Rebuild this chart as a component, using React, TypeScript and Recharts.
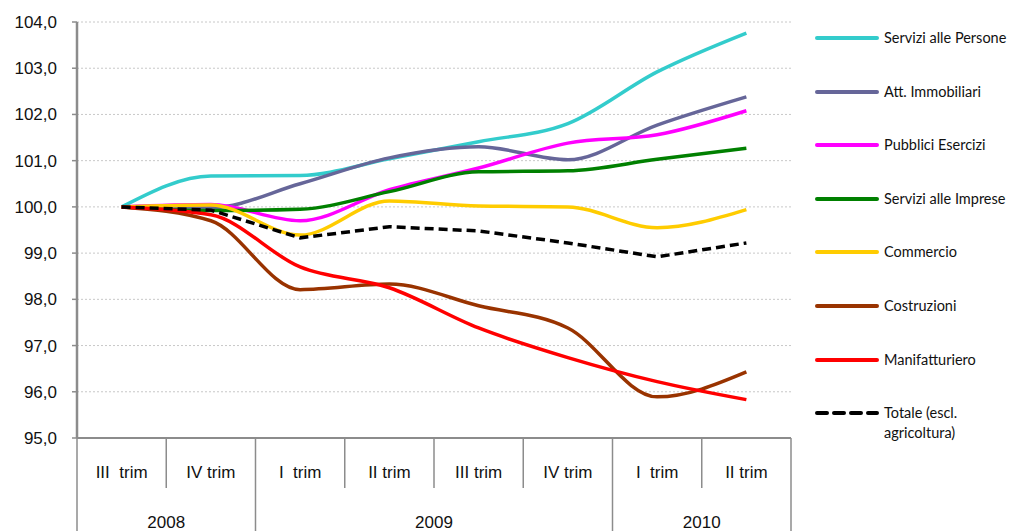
import { LineChart, Line, XAxis, YAxis, CartesianGrid } from 'recharts';

const quarters = ['III  trim', 'IV trim', 'I  trim', 'II trim', 'III trim', 'IV trim', 'I  trim', 'II trim'];
const years = ['2008', '2009', '2010'];
const yearSpans = [2, 4, 2];
const yTicks = [95, 96, 97, 98, 99, 100, 101, 102, 103, 104];

const serviziPersone = [100.0, 100.67, 100.68, 101.04, 101.41, 101.8, 102.92, 103.76];
const attImmobiliari = [100.0, 99.98, 100.5, 101.06, 101.3, 101.02, 101.77, 102.38];
const pubbliciEsercizi = [100.0, 100.05, 99.7, 100.37, 100.84, 101.38, 101.56, 102.08];
const serviziImprese = [100.0, 99.92, 99.95, 100.33, 100.76, 100.78, 101.03, 101.27];
const commercio = [100.0, 100.04, 99.39, 100.13, 100.02, 100.0, 99.55, 99.94];
const costruzioni = [100.0, 99.7, 98.21, 98.33, 97.86, 97.38, 95.89, 96.43];
const manifatturiero = [100.0, 99.83, 98.7, 98.25, 97.38, 96.74, 96.22, 95.83];
const totale = [100.0, 99.93, 99.33, 99.57, 99.48, 99.22, 98.92, 99.22];

const series = [
  { key: 'persone', name: 'Servizi alle Persone', values: serviziPersone, color: '#33CCCC' },
  { key: 'immobiliari', name: 'Att. Immobiliari', values: attImmobiliari, color: '#666699' },
  { key: 'pubblici', name: 'Pubblici Esercizi', values: pubbliciEsercizi, color: '#FF00FF' },
  { key: 'imprese', name: 'Servizi alle Imprese', values: serviziImprese, color: '#008000' },
  { key: 'commercio', name: 'Commercio', values: commercio, color: '#FFCC00' },
  { key: 'costruzioni', name: 'Costruzioni', values: costruzioni, color: '#993300' },
  { key: 'manifatturiero', name: 'Manifatturiero', values: manifatturiero, color: '#FF0000' },
  { key: 'totale', name: 'Totale (escl.\nagricoltura)', values: totale, color: '#000000', dash: '9 5' },
];

const data = quarters.map((q, i) => {
  const row: any = { q, i };
  series.forEach((s) => (row[s.key] = s.values[i]));
  return row;
});

const W = 1011;
const H = 531;
const X_AXIS_H = 93;
const Y_AXIS_W = 77;
const margin = { top: 22, right: 220, bottom: 0, left: 0 };
const plotBottom = H - X_AXIS_H;
const halfBand = (W - margin.right - Y_AXIS_W) / quarters.length / 2;

const yearStarts: number[] = [];
yearSpans.reduce((acc, n) => {
  yearStarts.push(acc);
  return acc + n;
}, 0);

const axisColor = '#8c8c8c';
const font = '"Liberation Sans", Arial, sans-serif';

const QuarterTick = (props: any) => {
  const { x, index } = props;
  const left = x - halfBand;
  const yi = yearStarts.indexOf(index);
  return (
    <g>
      <line x1={left} x2={left} y1={plotBottom} y2={yi >= 0 ? H : plotBottom + 50} stroke={axisColor} strokeWidth={1.5} />
      {index === quarters.length - 1 && (
        <line x1={x + halfBand} x2={x + halfBand} y1={plotBottom} y2={H} stroke={axisColor} strokeWidth={1.5} />
      )}
      <text x={x} y={plotBottom + 40} textAnchor="middle" fontSize={17} fill="#111" fontFamily={font} style={{ whiteSpace: 'pre' }}>
        {quarters[index]}
      </text>
      {yi >= 0 && (
        <text x={left + halfBand * yearSpans[yi]} y={plotBottom + 90} textAnchor="middle" fontSize={17} fill="#111" fontFamily={font}>
          {years[yi]}
        </text>
      )}
    </g>
  );
};

const LegendBox = () => (
  <div style={{ position: 'absolute', left: 815, top: 0, width: 196, height: 450, fontFamily: 'Lato, "Open Sans", sans-serif', fontSize: 14.5, color: '#111' }}>
    {series.map((s, i) => (
      <div key={s.key} style={{ position: 'absolute', left: 0, top: 38 + i * 53.6 - 10, display: 'flex', alignItems: 'flex-start' }}>
        <svg width={66} height={20} style={{ flex: 'none' }}>
          <line x1={2} x2={62} y1={10} y2={10} stroke={s.color} strokeWidth={4} strokeLinecap="round" strokeDasharray={s.dash ? '10 7' : undefined} />
        </svg>
        <div style={{ whiteSpace: 'pre', lineHeight: '20px', marginLeft: 3 }}>{s.name}</div>
      </div>
    ))}
  </div>
);

export default function App() {
  return (
    <div style={{ position: 'absolute', left: 0, top: 0, width: W, height: H, background: '#fff' }}>
      <LineChart width={W} height={H} data={data} margin={margin}>
        <CartesianGrid horizontal vertical={false} stroke="#c8c8c8" strokeDasharray="2 2" />
        <XAxis
          dataKey="q"
          interval={0}
          padding={{ left: halfBand, right: halfBand }}
          axisLine={{ stroke: axisColor, strokeWidth: 2 }}
          tickLine={false}
          tick={<QuarterTick />}
          height={X_AXIS_H}
        />
        <YAxis
          domain={[95, 104]}
          ticks={yTicks}
          width={Y_AXIS_W}
          interval={0}
          tickFormatter={(v: number) => v.toFixed(1).replace('.', ',')}
          axisLine={{ stroke: axisColor, strokeWidth: 2.5 }}
          tickLine={{ stroke: axisColor, strokeWidth: 1.5 }}
          tickSize={5}
          tickMargin={15}
          tick={{ fontSize: 17, fill: '#111', fontFamily: font }}
        />
        {series.map((s) => (
          <Line
            key={s.key}
            type={s.dash ? 'linear' : 'monotone'}
            dataKey={s.key}
            name={s.name}
            stroke={s.color}
            strokeWidth={3.5}
            strokeDasharray={s.dash}
            dot={false}
            activeDot={false}
            isAnimationActive={false}
          />
        ))}
      </LineChart>
      <LegendBox />
    </div>
  );
}
